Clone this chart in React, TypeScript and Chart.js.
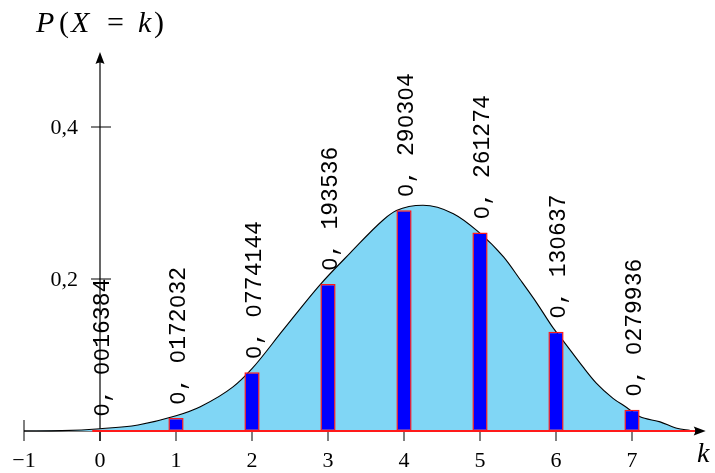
import React, { useEffect, useRef } from "react";
import { Chart, registerables } from "chart.js";

Chart.register(...registerables);

// ---- data ----
const ks = [0, 1, 2, 3, 4, 5, 6, 7];
const probs = [0.0016384, 0.0172032, 0.0774144, 0.193536, 0.290304, 0.261274, 0.130637, 0.0279936];
const probLabels = ["0, 0016384", "0, 0172032", "0, 0774144", "0, 193536", "0, 290304", "0, 261274", "0, 130637", "0, 0279936"];

// smooth density curve
const curveX = [-1, -0.5, 0, 0.5, 1, 1.32, 1.75, 2, 2.41, 2.9, 3.29, 3.73, 3.9, 4.25, 4.65, 4.98, 5.31, 5.53, 5.75, 5.96, 6.1, 6.35, 6.53, 6.75, 6.93, 7.1, 7.37, 7.59, 7.76];
const curveY = [0, 0.0005, 0.003, 0.008, 0.02, 0.032, 0.058, 0.082, 0.133, 0.193, 0.234, 0.278, 0.29, 0.297, 0.286, 0.262, 0.229, 0.199, 0.168, 0.136, 0.118, 0.085, 0.063, 0.043, 0.031, 0.019, 0.012, 0.0035, 0.001];

const baselineX = [-0.1, 7.86];
const baselineY = [0, 0];

const xTicks = [-1, 0, 1, 2, 3, 4, 5, 6, 7];
const xTickLabels = ["\u22121", "0", "1", "2", "3", "4", "5", "6", "7"];
const yTicks = [0.2, 0.4];
const yTickLabels = ["0,2", "0,4"];

const X_MIN = -1;
const X_MAX = 8;
const Y_MIN = 0;
const Y_MAX = 0.5;
const X_AXIS_END = 7.97;
const Y_AXIS_END = 0.4987;

const MONO = '23px "Liberation Mono", monospace';
const ZERO = '22px "Liberation Sans", sans-serif';
const ADV = 13.8;

function arrowHead(ctx: CanvasRenderingContext2D, tx: number, ty: number, dx: number, dy: number) {
  const len = 12;
  const half = 4.5;
  const notch = 9;
  const px = -dy;
  const py = dx;
  ctx.beginPath();
  ctx.moveTo(tx, ty);
  ctx.lineTo(tx - dx * len + px * half, ty - dy * len + py * half);
  ctx.quadraticCurveTo(tx - dx * notch, ty - dy * notch, tx - dx * len - px * half, ty - dy * len - py * half);
  ctx.closePath();
  ctx.fill();
}

function monoText(ctx: CanvasRenderingContext2D, s: string) {
  ctx.textAlign = "center";
  ctx.textBaseline = "alphabetic";
  for (let i = 0; i < s.length; i++) {
    const c = s[i];
    if (c === " ") continue;
    ctx.font = c === "0" ? ZERO : MONO;
    ctx.fillText(c, i * ADV + ADV / 2, 0);
  }
}

const axesPlugin = {
  id: "texAxes",
  beforeDatasetsDraw(chart: any) {
    const { ctx, scales } = chart;
    const xs = scales.x;
    const ys = scales.y;
    const x0 = xs.getPixelForValue(0);
    const y0 = ys.getPixelForValue(0);
    ctx.save();
    ctx.strokeStyle = "#000";
    ctx.lineWidth = 1.2;
    ctx.beginPath();
    ctx.moveTo(xs.getPixelForValue(-1), y0);
    ctx.lineTo(xs.getPixelForValue(X_AXIS_END) - 6, y0);
    ctx.stroke();
    ctx.beginPath();
    ctx.moveTo(x0, y0 + 10);
    ctx.lineTo(x0, ys.getPixelForValue(Y_AXIS_END) + 6);
    ctx.stroke();
    ctx.lineWidth = 1;
    xTicks.forEach((k) => {
      const px = xs.getPixelForValue(k);
      ctx.beginPath();
      ctx.moveTo(px, k === -1 ? y0 - 11 : y0);
      ctx.lineTo(px, y0 + 10);
      ctx.stroke();
    });
    yTicks.forEach((v) => {
      const py = ys.getPixelForValue(v);
      ctx.beginPath();
      ctx.moveTo(x0 - 9, py);
      ctx.lineTo(x0 + 11, py);
      ctx.stroke();
    });
    ctx.restore();
  },
  afterDatasetsDraw(chart: any) {
    const { ctx, scales } = chart;
    const xs = scales.x;
    const ys = scales.y;
    const x0 = xs.getPixelForValue(0);
    const y0 = ys.getPixelForValue(0);
    ctx.save();
    ctx.fillStyle = "#000";
    arrowHead(ctx, xs.getPixelForValue(X_AXIS_END), y0, 1, 0);
    arrowHead(ctx, x0, ys.getPixelForValue(Y_AXIS_END), 0, -1);

    // tick labels
    ctx.font = '22px "Liberation Serif", serif';
    ctx.textAlign = "center";
    ctx.textBaseline = "alphabetic";
    xTicks.forEach((k, i) => {
      ctx.fillText(xTickLabels[i], xs.getPixelForValue(k), y0 + 36);
    });
    ctx.textAlign = "right";
    yTicks.forEach((v, i) => {
      ctx.fillText(yTickLabels[i], x0 - 22, ys.getPixelForValue(v) + 7);
    });

    // axis names
    ctx.textAlign = "left";
    ctx.font = 'italic 28px "Liberation Serif", serif';
    ctx.fillText("k", 697, y0 + 31);
    ctx.font = 'italic 30px "Liberation Serif", serif';
    ctx.fillText("P", 36, 32);
    ctx.fillText("X", 71, 32);
    ctx.fillText("k", 138, 32);
    ctx.font = '30px "Liberation Serif", serif';
    ctx.fillText("(", 59, 32);
    ctx.fillText("=", 107, 32);
    ctx.fillText(")", 154, 32);

    // probability labels, rotated
    ks.forEach((k, i) => {
      const px = xs.getPixelForValue(k);
      const py = ys.getPixelForValue(probs[i]);
      ctx.save();
      ctx.translate(px + 8.5, py - 13);
      ctx.rotate(-Math.PI / 2);
      monoText(ctx, probLabels[i]);
      ctx.restore();
    });
    ctx.restore();
  },
};

export default function App() {
  const ref = useRef<HTMLCanvasElement | null>(null);
  useEffect(() => {
    document.body.style.margin = "0";
    const canvas = ref.current;
    if (!canvas) return;
    const chart = new Chart(canvas, {
      type: "bar",
      data: {
        datasets: [
          {
            type: "bar",
            data: ks.map((k, i) => ({ x: k, y: probs[i] })),
            backgroundColor: "#0000ff",
            borderColor: "#ff1a1a",
            borderWidth: 1.5,
            borderSkipped: false,
            categoryPercentage: 1,
            barPercentage: 0.2,
            order: 0,
            clip: false,
          } as any,
          {
            type: "line",
            data: baselineX.map((x, i) => ({ x, y: baselineY[i] })),
            borderColor: "#ff1a1a",
            borderWidth: 1.8,
            pointRadius: 0,
            fill: false,
            order: 1,
            clip: false,
          } as any,
          {
            type: "line",
            data: curveX.map((x, i) => ({ x, y: curveY[i] })),
            borderColor: "#000",
            borderWidth: 1.1,
            backgroundColor: "rgb(128, 214, 245)",
            fill: "origin",
            pointRadius: 0,
            cubicInterpolationMode: "monotone",
            order: 2,
            clip: false,
          } as any,
        ],
      },
      options: {
        responsive: false,
        animation: false,
        devicePixelRatio: 1,
        layout: { padding: { left: 24, right: 7, top: 51, bottom: 42 } },
        plugins: { legend: { display: false }, tooltip: { enabled: false }, title: { display: false } },
        scales: {
          x: { type: "linear", min: X_MIN, max: X_MAX, display: false, offset: false },
          y: { type: "linear", min: Y_MIN, max: Y_MAX, display: false },
        },
      },
      plugins: [axesPlugin],
    });
    return () => chart.destroy();
  }, []);
  return <canvas ref={ref} width={715} height={473} style={{ display: "block", width: 715, height: 473 }} />;
}
